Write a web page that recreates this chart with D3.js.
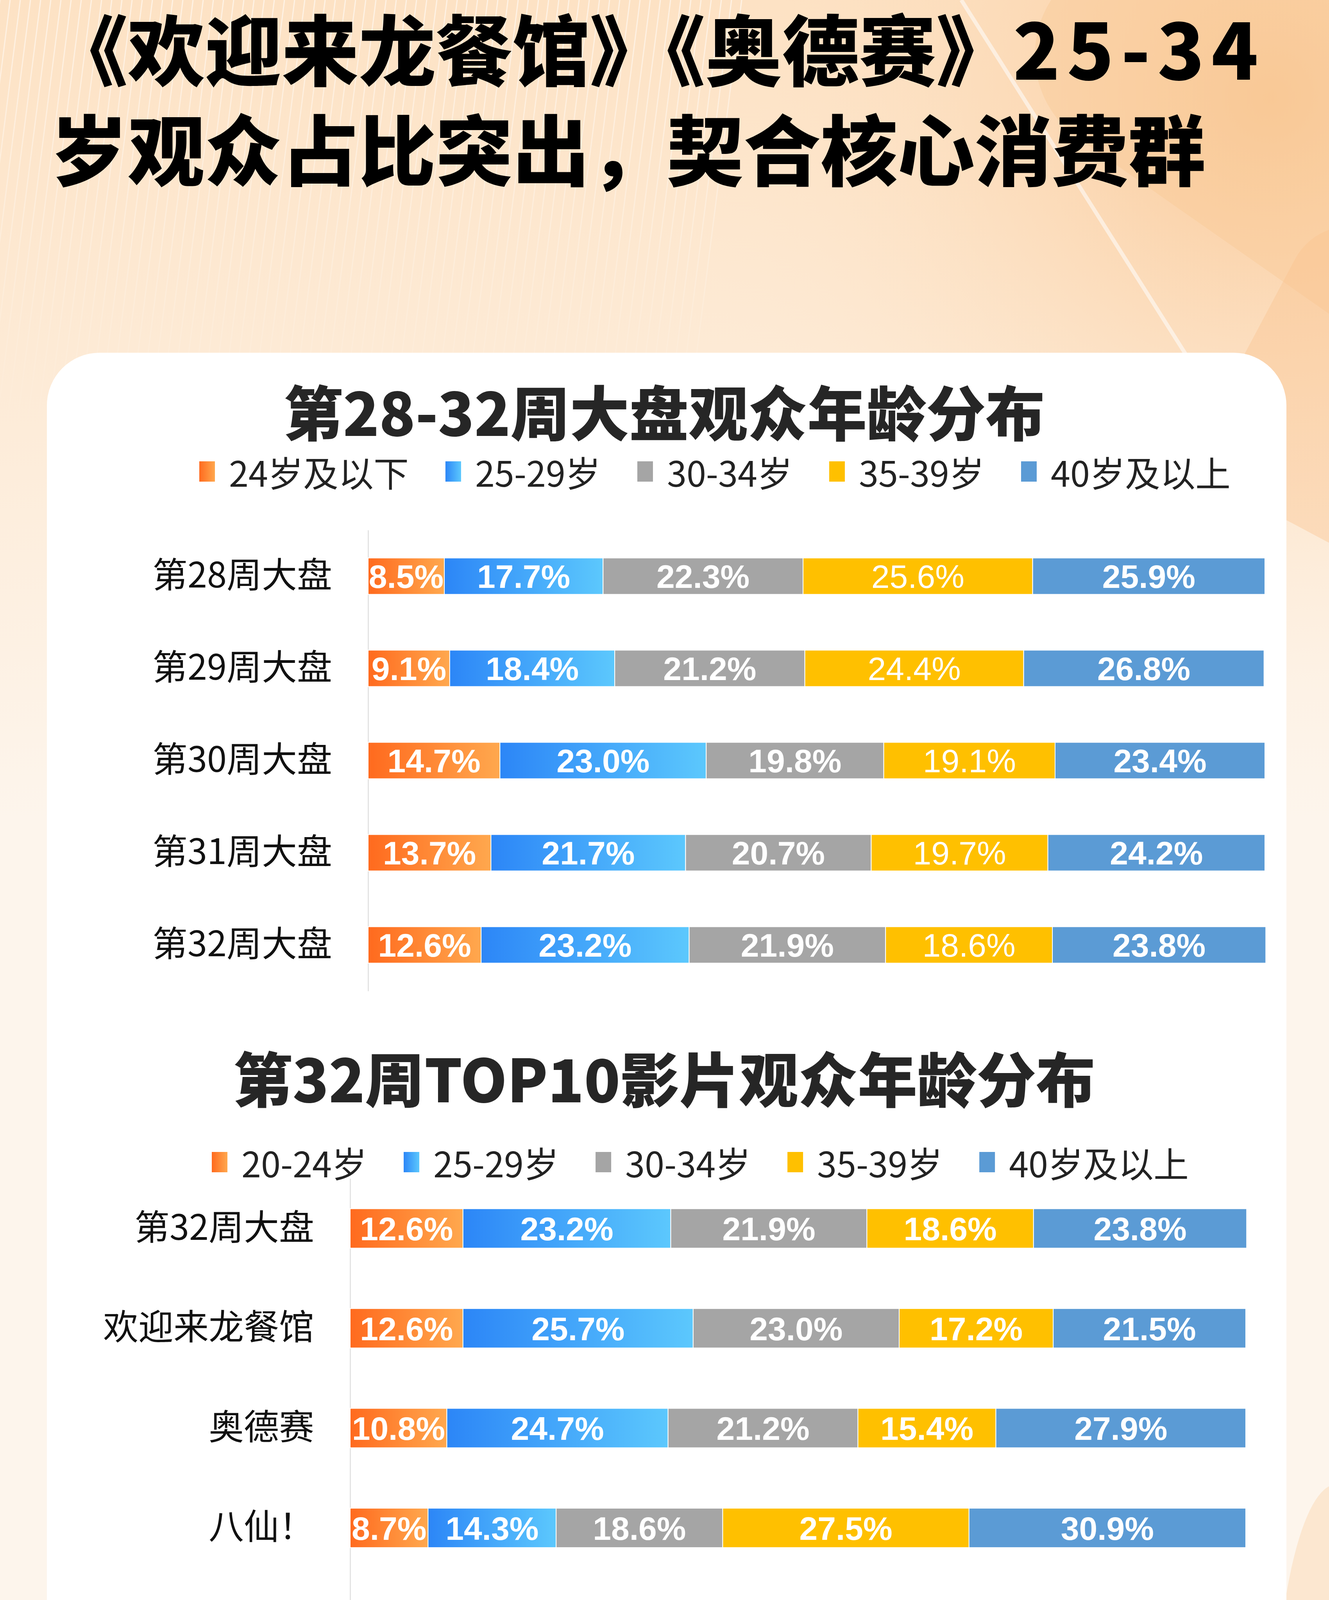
<!DOCTYPE html>
<html>
<head>
<meta charset="utf-8">
<script src="https://cdn.jsdelivr.net/npm/d3@7"></script>
<style>
  body { margin: 0; background: #fdf5ec; }
  svg { display: block; }
</style>
</head>
<body>
<div id="page"></div>
<script>
// ---- data ----
const headline1 = "《欢迎来龙餐馆》《奥德赛》";
const headline1Num = "25-34";
const headline2 = "岁观众占比突出，契合核心消费群";

const weekTitle = "第28-32周大盘观众年龄分布";
const weekKeys = ["24岁及以下", "25-29岁", "30-34岁", "35-39岁", "40岁及以上"];
const weeks = ["第28周大盘", "第29周大盘", "第30周大盘", "第31周大盘", "第32周大盘"];
const weekAge24 = [8.5, 9.1, 14.7, 13.7, 12.6];
const weekAge2529 = [17.7, 18.4, 23.0, 21.7, 23.2];
const weekAge3034 = [22.3, 21.2, 19.8, 20.7, 21.9];
const weekAge3539 = [25.6, 24.4, 19.1, 19.7, 18.6];
const weekAge40 = [25.9, 26.8, 23.4, 24.2, 23.8];

const filmTitle = "第32周TOP10影片观众年龄分布";
const filmKeys = ["20-24岁", "25-29岁", "30-34岁", "35-39岁", "40岁及以上"];
const films = ["第32周大盘", "欢迎来龙餐馆", "奥德赛", "八仙！", "蜘蛛侠：崭...", "去你的岛",
               "功夫女足", "痴迷", "汪汪队立大...", "逃出绝命街", "年会不能停！..."];
const filmAge2024 = [12.6, 12.6, 10.8, 8.7, 15.3, 34.3, 5.6, 32.6, 1.5, 7.3, 11.5];
const filmAge2529 = [23.2, 25.7, 24.7, 14.3, 21.3, 22.0, 10.6, 22.6, 12.8, 17.9, 24.9];
const filmAge3034 = [21.9, 23.0, 21.2, 18.6, 18.6, 12.2, 18.7, 12.0, 40.7, 20.1, 20.2];
const filmAge3539 = [18.6, 17.2, 15.4, 27.5, 19.4, 11.6, 29.5, 9.8, 29.9, 21.2, 15.7];
const filmAge40 = [23.8, 21.5, 27.9, 30.9, 25.4, 19.9, 35.6, 23.0, 15.1, 33.5, 27.7];

const footNote = "统计截至时间";
const footDate = "2026年8月17日";
const brandName = "灯塔专业版";

// ---- page ----
const W = 3401, H = 6429;
const cjk = "'Noto Sans CJK SC', 'Noto Sans', sans-serif";
const num = "'Liberation Sans', Arial, sans-serif";

const svg = d3.select("#page").append("svg")
    .attr("width", W)
    .attr("height", H);

const defs = svg.append("defs");

function hGrad(id, from, to) {
    const g = defs.append("linearGradient").attr("id", id)
        .attr("x1", 0).attr("x2", 1).attr("y1", 0).attr("y2", 0);
    g.append("stop").attr("offset", 0).attr("stop-color", from);
    g.append("stop").attr("offset", 1).attr("stop-color", to);
}
hGrad("gradOrange", "#ff6a1e", "#ffa84e");
hGrad("gradBlue", "#2c86f7", "#5cc8fd");

const bgTop = defs.append("linearGradient").attr("id", "bgTop")
    .attr("x1", 0).attr("x2", 0).attr("y1", 0).attr("y2", 1);
bgTop.append("stop").attr("offset", 0).attr("stop-color", "#fde2c4");
bgTop.append("stop").attr("offset", 1).attr("stop-color", "#fdf5ec");

const glow = defs.append("radialGradient").attr("id", "glow")
    .attr("gradientUnits", "userSpaceOnUse")
    .attr("cx", 3250).attr("cy", 250).attr("r", 1500);
glow.append("stop").attr("offset", 0).attr("stop-color", "#f9c28c").attr("stop-opacity", 0.85);
glow.append("stop").attr("offset", 1).attr("stop-color", "#fde6cc").attr("stop-opacity", 0);

const stripeFade = defs.append("linearGradient").attr("id", "stripeFade")
    .attr("gradientUnits", "userSpaceOnUse")
    .attr("x1", 0).attr("x2", 0).attr("y1", 0).attr("y2", 1100);
stripeFade.append("stop").attr("offset", 0).attr("stop-color", "#fff").attr("stop-opacity", 0.55);
stripeFade.append("stop").attr("offset", 1).attr("stop-color", "#fff").attr("stop-opacity", 0);

// background
svg.append("rect").attr("width", W).attr("height", H).attr("fill", "#fdf5ec");
svg.append("rect").attr("width", W).attr("height", 2100).attr("fill", "url(#bgTop)");
svg.append("rect").attr("width", W).attr("height", 2100).attr("fill", "url(#glow)");
svg.append("rect")
    .attr("x", 2800).attr("y", -700).attr("width", 1300).attr("height", 1300).attr("rx", 260)
    .attr("transform", "rotate(35,3300,0)")
    .attr("fill", "#f9c996").attr("opacity", 0.45);
svg.append("rect")
    .attr("x", 3260).attr("y", 560).attr("width", 700).attr("height", 760).attr("rx", 160)
    .attr("transform", "rotate(28,3400,800)")
    .attr("fill", "#f9c48e").attr("opacity", 0.4);
svg.append("ellipse")
    .attr("cx", 3420).attr("cy", 4500).attr("rx", 160).attr("ry", 700)
    .attr("fill", "#fbd9b4").attr("opacity", 0.5);
svg.append("line")
    .attr("x1", 2460).attr("y1", 0).attr("x2", 3220).attr("y2", 1200)
    .attr("stroke", "#fff").attr("stroke-width", 10).attr("opacity", 0.55);

// thin stripes on the upper left
svg.append("g")
    .selectAll("line")
    .data(d3.range(0, 1900, 26))
    .enter().append("line")
    .attr("x1", d => d)
    .attr("y1", 0)
    .attr("x2", d => d - 140)
    .attr("y2", 1100)
    .attr("stroke", "url(#stripeFade)")
    .attr("stroke-width", 3);

// headline
const head = svg.append("g")
    .attr("font-family", cjk)
    .attr("font-weight", 900)
    .attr("font-size", 197)
    .attr("fill", "#000");
const h1 = head.append("text").attr("x", 130).attr("y", 118).attr("dominant-baseline", "central");
h1.append("tspan").text(headline1);
h1.append("tspan").attr("letter-spacing", 18).text(headline1Num);
head.append("text").attr("x", 130).attr("y", 374).attr("dominant-baseline", "central").text(headline2);

// white card
svg.append("rect")
    .attr("x", 120).attr("y", 903)
    .attr("width", 3172).attr("height", 5011)
    .attr("rx", 135)
    .attr("fill", "#fff");

const fills = ["url(#gradOrange)", "url(#gradBlue)", "#a5a5a5", "#ffc000", "#5b9bd5"];
const swatch = ["#ff7a2e", "#2f8cf8", "#a5a5a5", "#ffc000", "#5b9bd5"];

function drawChart(cfg) {
    const g = svg.append("g");

    // title
    g.append("text")
        .attr("x", 1700).attr("y", cfg.titleY)
        .attr("dominant-baseline", "central")
        .attr("text-anchor", "middle")
        .attr("font-family", cjk)
        .attr("font-weight", 900)
        .attr("font-size", 152)
        .attr("fill", "#262626")
        .text(cfg.title);

    // legend
    let cx = cfg.legendX;
    cfg.keys.forEach((k, j) => {
        g.append("rect")
            .attr("x", cx).attr("y", cfg.legendY - 26)
            .attr("width", 40).attr("height", 52)
            .attr("fill", j < 2 ? fills[j] : swatch[j]);
        const t = g.append("text")
            .attr("x", cx + 76).attr("y", cfg.legendY)
            .attr("dominant-baseline", "central")
            .attr("font-family", cjk)
            .attr("font-size", 90)
            .attr("fill", "#222")
            .text(k);
        cx += 76 + t.node().getComputedTextLength() + 94;
    });

    const x = d3.scaleLinear().domain([0, 100]).range(cfg.xRange);
    const y = d3.scaleBand()
        .domain(cfg.cats)
        .range(cfg.yRange)
        .paddingInner(0.605)
        .paddingOuter(0.3025);

    const rows = cfg.cats.map((c, i) => {
        const r = { cat: c };
        cfg.keys.forEach((k, j) => { r[k] = cfg.series[j][i]; });
        return r;
    });
    const layers = d3.stack().keys(cfg.keys)(rows);

    // category axis
    const axis = g.append("g")
        .attr("transform", `translate(${cfg.xRange[0]},0)`)
        .call(d3.axisLeft(y).tickSize(0).tickSizeOuter(0).tickPadding(92));
    axis.select(".domain").attr("stroke", "#e3e3e3").attr("stroke-width", 3);
    axis.selectAll("text")
        .attr("font-family", cjk)
        .attr("font-size", 90)
        .attr("fill", "#111");

    // bars
    layers.forEach((layer, j) => {
        g.append("g")
            .selectAll("rect")
            .data(layer)
            .enter().append("rect")
            .attr("x", d => x(d[0]))
            .attr("y", d => y(d.data.cat))
            .attr("width", d => x(d[1]) - x(d[0]))
            .attr("height", y.bandwidth())
            .attr("fill", fills[j])
            .attr("stroke", "#fff")
            .attr("stroke-width", 2);
    });

    // value labels, clipped to the plot area
    const clipId = cfg.id + "-clip";
    defs.append("clipPath").attr("id", clipId)
        .append("rect")
        .attr("x", cfg.xRange[0]).attr("y", cfg.yRange[0])
        .attr("width", cfg.xRange[1] - cfg.xRange[0])
        .attr("height", cfg.yRange[1] - cfg.yRange[0]);

    const labels = g.append("g").attr("clip-path", `url(#${clipId})`);
    layers.forEach((layer, j) => {
        labels.append("g")
            .selectAll("text")
            .data(layer)
            .enter().append("text")
            .attr("x", d => (x(d[0]) + x(d[1])) / 2)
            .attr("y", d => y(d.data.cat) + y.bandwidth() / 2)
            .attr("dy", "0.36em")
            .attr("text-anchor", "middle")
            .attr("font-family", num)
            .attr("font-weight", j === cfg.lightKey ? 400 : 700)
            .attr("font-size", 84)
            .attr("fill", "#fff")
            .text(d => d3.format(".1f")(d[1] - d[0]) + "%");
    });
}

drawChart({
    id: "weeks",
    title: weekTitle,
    titleY: 1050,
    keys: weekKeys,
    legendX: 510,
    legendY: 1207,
    cats: weeks,
    series: [weekAge24, weekAge2529, weekAge3034, weekAge3539, weekAge40],
    xRange: [942, 3237],
    yRange: [1357, 2537],
    lightKey: 3
});

drawChart({
    id: "films",
    title: filmTitle,
    titleY: 2756,
    keys: filmKeys,
    legendX: 542,
    legendY: 2975,
    cats: films,
    series: [filmAge2024, filmAge2529, filmAge3034, filmAge3539, filmAge40],
    xRange: [896, 3188],
    yRange: [3017, 5828],
    lightKey: -1
});

// footer
const foot = svg.append("g")
    .attr("font-family", cjk)
    .attr("font-size", 100)
    .attr("fill", "#595959");
foot.append("text").attr("x", 128).attr("y", 6162).attr("dominant-baseline", "central").text(footNote);
foot.append("text").attr("x", 128).attr("y", 6343).attr("dominant-baseline", "central").text(footDate);

// brand icon
const icon = svg.append("g").attr("transform", "translate(1295,6148)");
defs.append("clipPath").attr("id", "iconClip")
    .append("rect").attr("width", 182).attr("height", 182).attr("rx", 40);
icon.append("rect").attr("width", 182).attr("height", 182).attr("rx", 40).attr("fill", "#fa6a1f");
const lh = icon.append("g").attr("clip-path", "url(#iconClip)");
lh.append("path").attr("d", "M90,30 L118,49 L118,66 L61,66 L61,49 Z").attr("fill", "#fff");
lh.append("rect").attr("x", 48).attr("y", 64).attr("width", 83).attr("height", 19).attr("fill", "#fff");
lh.append("circle").attr("cx", 90).attr("cy", 57).attr("r", 6).attr("fill", "#fa6a1f");
lh.append("path").attr("d", "M58,91 L118,91 L132,190 L46,190 Z").attr("fill", "#fff");
lh.append("path").attr("d", "M50,150 L125,112 L128,132 L53,170 Z").attr("fill", "#f6a47a");
lh.append("g")
    .selectAll("rect")
    .data([[108, 103], [94, 110], [80, 117], [66, 124], [112, 148], [98, 155], [84, 162], [70, 169], [56, 176]])
    .enter().append("rect")
    .attr("x", d => d[0]).attr("y", d => d[1])
    .attr("width", 7).attr("height", 7)
    .attr("fill", "#fa6a1f");

svg.append("text")
    .attr("x", 1529).attr("y", 6236)
    .attr("dominant-baseline", "central")
    .attr("font-family", cjk)
    .attr("font-weight", 700)
    .attr("font-size", 118)
    .attr("fill", "#f26a21")
    .text(brandName);
</script>
</body>
</html>
